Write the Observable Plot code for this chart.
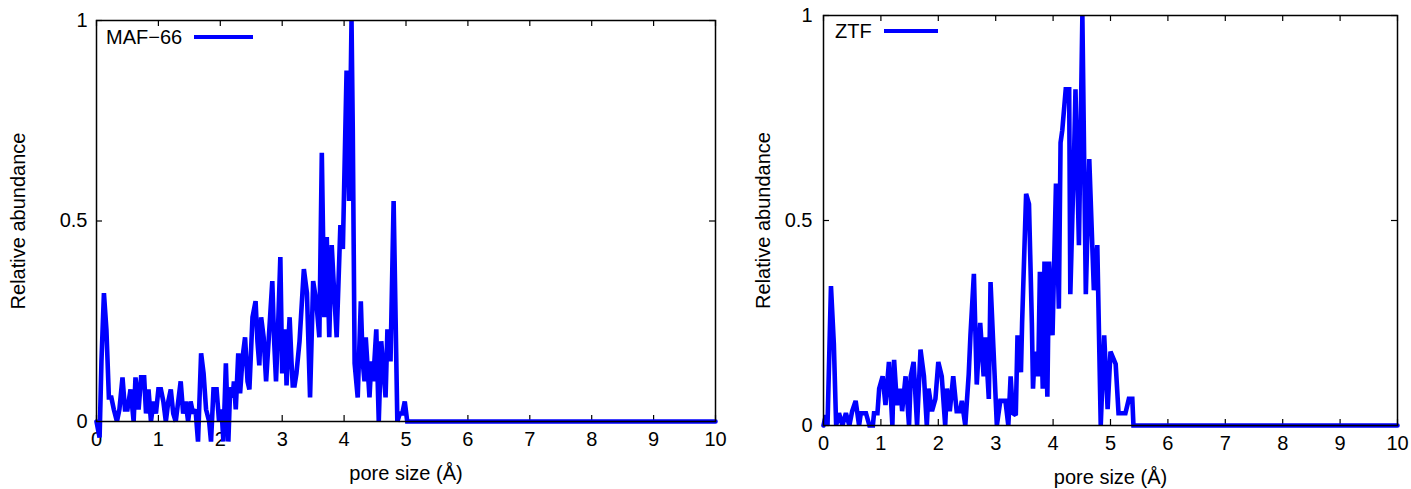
<!DOCTYPE html>
<html>
<head>
<meta charset="utf-8">
<script src="https://cdn.jsdelivr.net/npm/d3@7"></script>
<script src="https://cdn.jsdelivr.net/npm/@observablehq/plot@0.6"></script>
<style>
  html, body { margin: 0; padding: 0; background: #fff; }
  #wrap { position: relative; width: 1411px; height: 489px; overflow: hidden; font-family: "Liberation Sans", Arial, sans-serif; }
  .panel { position: absolute; top: 0; }
  .legend { position: absolute; display: flex; align-items: center; font-size: 20px; color: #000; line-height: 1; }
  .legend .sw { display: inline-block; height: 4px; background: #0000ff; }
</style>
</head>
<body>
<div id="wrap">
  <div id="left" class="panel" style="left:0px"></div>
  <div id="right" class="panel" style="left:740px"></div>
  <div class="legend" style="left:106px; top:27px;"><span>MAF−66</span><span class="sw" style="margin-left:12px; width:59px;"></span></div>
  <div class="legend" style="left:835px; top:21px;"><span>ZTF</span><span class="sw" style="margin-left:12px; width:54px;"></span></div>
</div>
<script>
// ---- data ----
const xTicks = [0, 1, 2, 3, 4, 5, 6, 7, 8, 9, 10];
const yTicks = [0, 0.5, 1];
const xLabel = "pore size (Å)";
const yLabel = "Relative abundance";

const mafX = [0, 0.05, 0.08, 0.12, 0.16, 0.2, 0.24, 0.28, 0.33, 0.37, 0.42, 0.46, 0.5, 0.55, 0.6, 0.63, 0.68, 0.72, 0.77, 0.8,
  0.84, 0.88, 0.92, 0.96, 1.0, 1.04, 1.08, 1.12, 1.16, 1.2, 1.24, 1.28, 1.32, 1.36, 1.4, 1.44, 1.48, 1.52, 1.56, 1.6,
  1.64, 1.69, 1.73, 1.77, 1.82, 1.85, 1.89, 1.94, 1.98, 2.02, 2.05, 2.09, 2.13, 2.16, 2.2, 2.22, 2.25, 2.29, 2.32, 2.36,
  2.4, 2.44, 2.47, 2.52, 2.57, 2.6, 2.63, 2.66, 2.7, 2.74, 2.78, 2.84, 2.87, 2.9, 2.93, 2.97, 3.0, 3.02, 3.05, 3.07,
  3.1, 3.12, 3.15, 3.17, 3.2, 3.23, 3.28, 3.35, 3.4, 3.45, 3.5, 3.55, 3.6, 3.64, 3.68, 3.72, 3.76, 3.8, 3.84, 3.88,
  3.94, 3.98, 4.04, 4.08, 4.12, 4.14, 4.17, 4.22, 4.27, 4.3, 4.33, 4.35, 4.41, 4.44, 4.47, 4.52, 4.56, 4.6, 4.64, 4.67,
  4.7, 4.75, 4.8, 4.86, 4.9, 4.94, 4.98, 5.02, 10];
const mafY = [0, -0.04, 0.15, 0.32, 0.23, 0.06, 0.06, 0.03, 0.0, 0.03, 0.11, 0.03, 0.03, 0.08, 0.0, 0.11, 0.03, 0.11, 0.11, 0.02,
  0.08, 0.0, 0.05, 0.02, 0.08, 0.08, 0.05, 0.0, 0.05, 0.08, 0.02, 0.0, 0.05, 0.1, 0.02, 0.05, 0.0, 0.05, 0.02, 0.03,
  -0.05, 0.17, 0.12, 0.03, 0.0, -0.05, 0.08, 0.08, 0.0, 0.03, -0.05, 0.145, -0.05, 0.085, 0.06, 0.1, 0.03, 0.17, 0.07, 0.16,
  0.21, 0.1, 0.08, 0.26, 0.3, 0.2, 0.14, 0.26, 0.21, 0.1, 0.2, 0.35, 0.2, 0.1, 0.22, 0.41, 0.12, 0.2, 0.23, 0.09,
  0.2, 0.26, 0.15, 0.09, 0.09, 0.12, 0.2, 0.38, 0.32, 0.06, 0.35, 0.3, 0.21, 0.67, 0.26, 0.46, 0.21, 0.44, 0.32, 0.21,
  0.49, 0.43, 0.875, 0.55, 1.0, 0.73, 0.145, 0.06, 0.3, 0.15, 0.1, 0.21, 0.06, 0.15, 0.1, 0.23, 0.0, 0.2, 0.12, 0.06,
  0.23, 0.15, 0.55, 0.0, 0.02, 0.02, 0.05, 0.0, 0.0];

const ztfX = [0, 0.04, 0.07, 0.13, 0.18, 0.22, 0.27, 0.33, 0.39, 0.45, 0.5, 0.56, 0.62, 0.65, 0.74, 0.8, 0.86, 0.88, 0.94, 0.97,
  1.03, 1.08, 1.14, 1.2, 1.23, 1.28, 1.34, 1.37, 1.43, 1.49, 1.52, 1.57, 1.63, 1.69, 1.75, 1.8, 1.83, 1.89, 1.95, 2.0,
  2.06, 2.12, 2.15, 2.2, 2.26, 2.32, 2.38, 2.41, 2.47, 2.53, 2.56, 2.62, 2.67, 2.73, 2.79, 2.82, 2.88, 2.91, 2.96, 3.02,
  3.08, 3.17, 3.22, 3.26, 3.3, 3.35, 3.38, 3.44, 3.46, 3.53, 3.58, 3.63, 3.65, 3.68, 3.74, 3.77, 3.82, 3.85, 3.9, 3.93,
  3.99, 4.05, 4.1, 4.13, 4.16, 4.22, 4.28, 4.3, 4.37, 4.39, 4.45, 4.51, 4.57, 4.63, 4.71, 4.77, 4.83, 4.89, 4.95, 5.0,
  5.09, 5.14, 5.2, 5.26, 5.32, 5.38, 5.4, 10];
const ztfY = [0, 0.025, 0.0, 0.34, 0.2, 0.0, 0.03, 0.0, 0.03, 0.0, 0.035, 0.06, 0.0, 0.03, 0.03, 0.0, 0.0, 0.03, 0.03, 0.09,
  0.12, 0.05, 0.155, 0.0, 0.16, 0.05, 0.09, 0.035, 0.12, 0.0, 0.12, 0.155, 0.0, 0.185, 0.12, 0.0, 0.09, 0.035, 0.065, 0.155,
  0.12, 0.0, 0.09, 0.035, 0.12, 0.035, 0.035, 0.06, 0.0, 0.125, 0.22, 0.37, 0.1, 0.25, 0.12, 0.215, 0.065, 0.35, 0.19, 0.0,
  0.06, 0.06, 0.0, 0.12, 0.03, 0.025, 0.22, 0.13, 0.25, 0.565, 0.54, 0.25, 0.09, 0.18, 0.12, 0.375, 0.09, 0.4, 0.07, 0.4,
  0.22, 0.59, 0.285, 0.69, 0.72, 0.82, 0.82, 0.32, 0.69, 0.82, 0.44, 1.0, 0.32, 0.65, 0.33, 0.44, 0.0, 0.22, 0.04, 0.18,
  0.15, 0.03, 0.03, 0.03, 0.065, 0.065, 0.0, 0.0];

// ---- drawing ----
function panel(xs, ys, o) {
  const data = xs.map((x, i) => ({x, y: ys[i]}));
  const plotW = o.width - o.ml - o.mr;
  const plotH = o.height - o.mt - o.mb;
  const tk = 6;
  return Plot.plot({
    width: o.width, height: o.height,
    marginLeft: o.ml, marginRight: o.mr, marginTop: o.mt, marginBottom: o.mb,
    style: {fontFamily: "'Liberation Sans', Arial, sans-serif", fontSize: "20px", color: "#000", background: "#fff", overflow: "visible"},
    x: {domain: [0, 10]},
    y: {domain: [0, 1]},
    marks: [
      Plot.axisX(xTicks, {tickSize: 0, tickPadding: 10, label: xLabel, labelAnchor: "center", labelArrow: "none", labelOffset: o.xlo}),
      Plot.axisY(yTicks, {tickSize: 0, tickPadding: o.ytp, tickFormat: d => String(d), label: yLabel, labelAnchor: "center", labelArrow: "none", labelOffset: o.ylo}),
      Plot.tickX(xTicks, {x: d => d, insetTop: plotH - tk, stroke: "#000", strokeWidth: 1.2}),
      Plot.tickX(xTicks, {x: d => d, insetBottom: plotH - tk, stroke: "#000", strokeWidth: 1.2}),
      Plot.tickY(yTicks, {y: d => d, insetRight: plotW - tk, stroke: "#000", strokeWidth: 1.2}),
      Plot.tickY(yTicks, {y: d => d, insetLeft: plotW - tk, stroke: "#000", strokeWidth: 1.2}),
      Plot.line(data, {x: "x", y: "y", stroke: "#0000ff", strokeWidth: 4.6, strokeLinejoin: "miter", strokeMiterlimit: 2}),
      Plot.frame({stroke: "#000", strokeWidth: 1.5})
    ]
  });
}

document.getElementById("left").append(panel(mafX, mafY, {width: 740, height: 489, ml: 96, mr: 25, mt: 20, mb: 68, xlo: 58, ylo: 86, ytp: 9}));
document.getElementById("right").append(panel(ztfX, ztfY, {width: 671, height: 489, ml: 83, mr: 14, mt: 15, mb: 64, xlo: 58, ylo: 68, ytp: 11}));
</script>
</body>
</html>
